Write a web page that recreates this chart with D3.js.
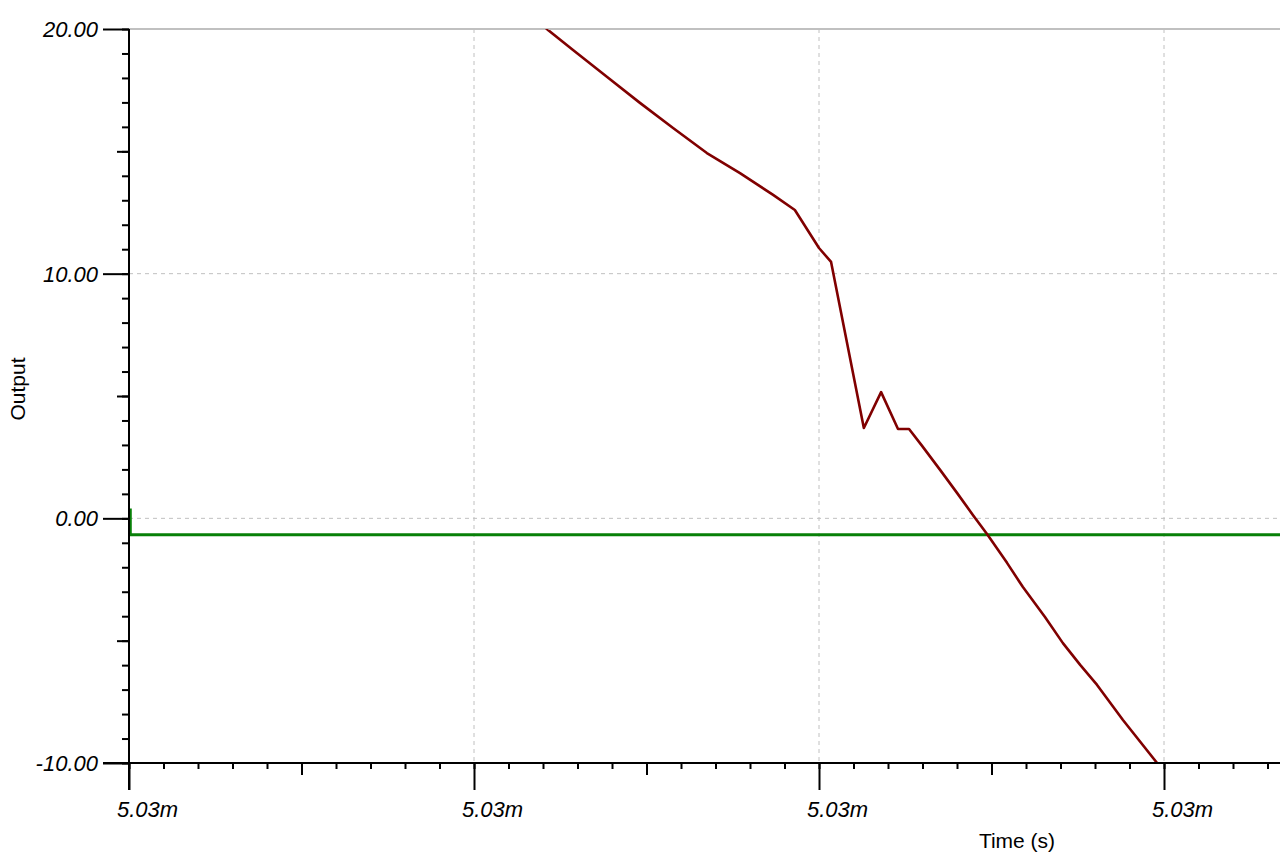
<!DOCTYPE html>
<html>
<head>
<meta charset="utf-8">
<script src="https://cdn.jsdelivr.net/npm/d3@7"></script>
<style>
  html, body { margin: 0; padding: 0; background: #fff; }
  svg { display: block; }
  .tick-label { font-family: "Liberation Sans", Arial, sans-serif; font-style: italic; font-size: 22px; fill: #000; }
  .axis-title { font-family: "Liberation Sans", Arial, sans-serif; font-size: 21px; fill: #000; }
</style>
</head>
<body>
<div id="chart"></div>
<script>
// time in ns offset from 5.03 ms, output in volts
const baseTime = 5.03e-3;
const xMajorTicks = [0, 1, 2, 3];
const xTickLabels = ["5.03m", "5.03m", "5.03m", "5.03m"];
const yMajorTicks = [-10, 0, 10, 20];
const yTickLabels = ["-10.00", "0.00", "10.00", "20.00"];

const redTime = [1.191, 1.2145, 1.287, 1.386, 1.481, 1.577, 1.675, 1.771, 1.867, 1.930, 2.000, 2.035,
  2.130, 2.180, 2.229, 2.261, 2.301, 2.351, 2.400, 2.446, 2.487, 2.545, 2.591, 2.655, 2.707, 2.757,
  2.806, 2.881, 2.980, 3.003];
const redOutput = [20.26, 19.96, 19.14, 18.04, 16.98, 15.95, 14.93, 14.11, 13.22, 12.60, 11.05, 10.48,
  3.69, 5.16, 3.65, 3.65, 2.92, 1.98, 1.04, 0.14, -0.64, -1.82, -2.81, -4.03, -5.10, -5.99,
  -6.81, -8.24, -10.00, -10.41];

const greenTime = [0.004, 0.004, 3.34];
const greenOutput = [0.40, -0.67, -0.67];

const width = 1280, height = 864;
const margin = {left: 129, right: 0, top: 29, bottom: 101};

const svg = d3.select("#chart").append("svg")
  .attr("width", width)
  .attr("height", height);

const x = d3.scaleLinear()
  .domain([0, (width - margin.left - margin.right) / 345])
  .range([margin.left, width - margin.right]);

const y = d3.scaleLinear()
  .domain([-10, 20])
  .range([height - margin.bottom, margin.top]);

const xMinor = d3.range(0, 34).map(i => i / 10).filter(v => v <= x.domain()[1]);
const xMid = xMinor.filter((v, i) => i % 10 === 5);
const yMinor = d3.range(-10, 21);
const yMid = [-5, 5, 15];

// grid
const grid = svg.append("g");
grid.selectAll("line.vgrid")
  .data(xMajorTicks.filter(v => v > 0)).enter()
  .append("line")
  .attr("x1", d => x(d)).attr("x2", d => x(d))
  .attr("y1", y(20)).attr("y2", y(-10))
  .attr("stroke", "#c0c0c0")
  .attr("stroke-dasharray", "4,4");
grid.selectAll("line.hgrid")
  .data(yMajorTicks.filter(v => v > -10)).enter()
  .append("line")
  .attr("x1", x(0)).attr("x2", width)
  .attr("y1", d => y(d)).attr("y2", d => y(d))
  .attr("stroke", "#c0c0c0")
  .attr("stroke-dasharray", d => d === 20 ? null : "4,4")
  .attr("stroke-width", d => d === 20 ? 2 : 1);

// data
svg.append("clipPath").attr("id", "plot-clip")
  .append("rect")
  .attr("x", x(0)).attr("y", y(20))
  .attr("width", width - x(0)).attr("height", y(-10) - y(20));

const line = d3.line()
  .x(d => x(d[0]))
  .y(d => y(d[1]));

const plot = svg.append("g").attr("clip-path", "url(#plot-clip)");
plot.append("path")
  .datum(greenTime.map((t, i) => [t, greenOutput[i]]))
  .attr("fill", "none")
  .attr("stroke", "#088008")
  .attr("stroke-width", 2.8)
  .attr("d", line);
plot.append("path")
  .datum(redTime.map((t, i) => [t, redOutput[i]]))
  .attr("fill", "none")
  .attr("stroke", "#800000")
  .attr("stroke-width", 2.6)
  .attr("stroke-linejoin", "round")
  .attr("d", line);

// x axis: minor, mid, major ticks
const xAxisG = svg.append("g").attr("transform", `translate(0,${y(-10)})`);
[[xMinor, 6], [xMid, 12], [xMajorTicks, 27]].forEach(([vals, size]) => {
  xAxisG.append("g")
    .call(d3.axisBottom(x).tickValues(vals).tickSize(size).tickFormat(""))
    .call(g => g.select(".domain").remove())
    .call(g => g.selectAll(".tick line").attr("stroke", "#000").attr("stroke-width", 2));
});
xAxisG.append("line")
  .attr("x1", x(0) - 26).attr("x2", width)
  .attr("stroke", "#000").attr("stroke-width", 2);
xAxisG.selectAll("text.tick-label")
  .data(xMajorTicks).enter()
  .append("text")
  .attr("class", "tick-label")
  .attr("x", d => x(d) - 12)
  .attr("y", 54)
  .text((d, i) => xTickLabels[i]);

// y axis: minor, mid, major ticks
const yAxisG = svg.append("g").attr("transform", `translate(${x(0)},0)`);
[[yMinor, 7], [yMid, 12], [yMajorTicks, 26]].forEach(([vals, size]) => {
  yAxisG.append("g")
    .call(d3.axisLeft(y).tickValues(vals).tickSize(size).tickFormat(""))
    .call(g => g.select(".domain").remove())
    .call(g => g.selectAll(".tick line").attr("stroke", "#000").attr("stroke-width", 2));
});
yAxisG.append("line")
  .attr("y1", y(20)).attr("y2", y(-10) + 27)
  .attr("stroke", "#000").attr("stroke-width", 2);
yAxisG.selectAll("text.tick-label")
  .data(yMajorTicks).enter()
  .append("text")
  .attr("class", "tick-label")
  .attr("x", -31)
  .attr("y", d => y(d))
  .attr("dy", "0.36em")
  .attr("text-anchor", "end")
  .text((d, i) => yTickLabels[i]);

// titles
svg.append("text")
  .attr("class", "axis-title")
  .attr("x", 1017).attr("y", 848)
  .attr("text-anchor", "middle")
  .text("Time (s)");
svg.append("text")
  .attr("class", "axis-title")
  .attr("transform", "translate(25,389) rotate(-90)")
  .attr("text-anchor", "middle")
  .text("Output");
</script>
</body>
</html>
